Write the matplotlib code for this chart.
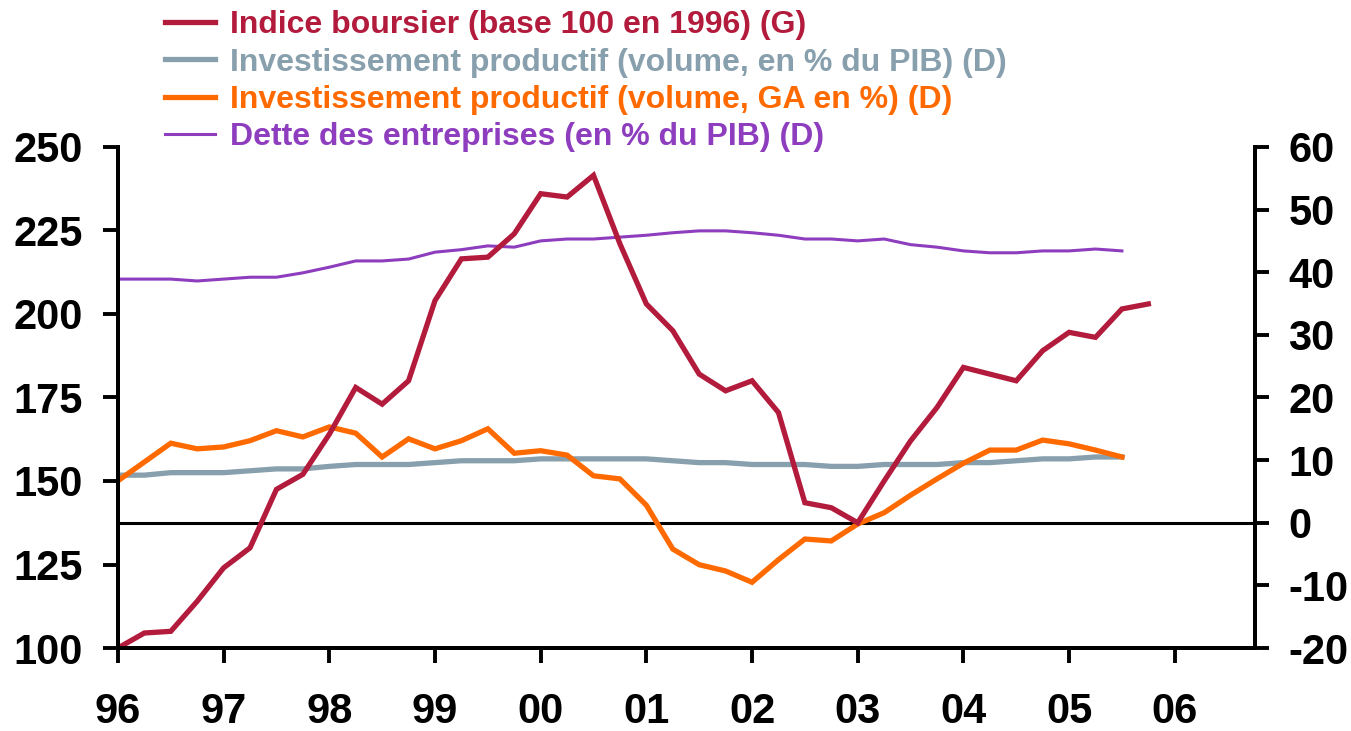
import matplotlib
matplotlib.use("Agg")
import matplotlib.pyplot as plt
import numpy as np

# Quarterly dates (1996Q1 .. ), in years since 1996
stock_x = np.arange(40) / 4.0
stock = [100, 104.5, 105, 114, 124, 130, 147.5, 152, 164, 178, 173, 180,
         204, 216.5, 217, 224, 236, 235, 241.5, 221, 203, 195, 182, 177,
         180, 170.5, 143.5, 142, 137.5, 150, 162, 172, 184, 182, 180, 189,
         194.5, 193, 201.5, 203]

inv_x = np.arange(39) / 4.0
inv_pib = [7.6, 7.6, 8.0, 8.0, 8.0, 8.3, 8.6, 8.6, 9.0, 9.3, 9.3, 9.3,
           9.6, 9.9, 9.9, 9.9, 10.2, 10.2, 10.2, 10.2, 10.2, 9.9, 9.6, 9.6,
           9.3, 9.3, 9.3, 9.0, 9.0, 9.3, 9.3, 9.3, 9.6, 9.6, 9.9, 10.2,
           10.2, 10.5, 10.5]
inv_ga = [6.7, 9.7, 12.7, 11.8, 12.1, 13.1, 14.7, 13.7, 15.3, 14.3, 10.5, 13.4,
          11.8, 13.1, 15.0, 11.1, 11.5, 10.8, 7.5, 7.0, 2.8, -4.2, -6.7, -7.7,
          -9.5, -5.9, -2.6, -2.9, -0.2, 1.6, 4.4, 7.0, 9.5, 11.6, 11.6, 13.2,
          12.6, 11.6, 10.5]
dette = [38.9, 38.9, 38.9, 38.6, 38.9, 39.2, 39.2, 39.9, 40.8, 41.8, 41.8, 42.1,
         43.2, 43.6, 44.2, 44.0, 45.0, 45.3, 45.3, 45.6, 45.9, 46.3, 46.6, 46.6,
         46.3, 45.9, 45.3, 45.3, 45.0, 45.3, 44.4, 44.0, 43.4, 43.1, 43.1, 43.4,
         43.4, 43.7, 43.4]

xtick_labels = ["96", "97", "98", "99", "00", "01", "02", "03", "04", "05", "06"]
left_ticks = [100, 125, 150, 175, 200, 225, 250]
right_ticks = [-20, -10, 0, 10, 20, 30, 40, 50, 60]

labels = ["Indice boursier (base 100 en 1996) (G)",
          "Investissement productif (volume, en % du PIB) (D)",
          "Investissement productif (volume, GA en %) (D)",
          "Dette des entreprises (en % du PIB) (D)"]
c_red = "#B31B3D"
c_gray = "#88A0AD"
c_orange = "#FF6A00"
c_purple = "#8D3DBE"

plt.rcParams['font.family'] = ['Liberation Sans', 'DejaVu Sans']
plt.rcParams['font.weight'] = 'bold'
plt.rcParams['axes.unicode_minus'] = False

fig = plt.figure(figsize=(13.51, 7.31), dpi=100)
ax = fig.add_axes([0.0873, 0.1135, 0.9290 - 0.0873, 0.799 - 0.1135])
ax2 = ax.twinx()

ax.set_zorder(ax2.get_zorder() + 1)
ax.patch.set_visible(False)

l2, = ax2.plot(inv_x, inv_pib, color=c_gray, lw=3.8, solid_joinstyle='miter')
l4, = ax2.plot(inv_x, dette, color=c_purple, lw=2.2)
ax2.axhline(0, color="black", lw=2.2, zorder=1)
l3, = ax2.plot(inv_x, inv_ga, color=c_orange, lw=3.8, solid_joinstyle='miter')
l1, = ax.plot(stock_x, stock, color=c_red, lw=3.8, solid_joinstyle='miter')

ax.set_xlim(0, 10.76)
ax.set_ylim(100, 250)
ax2.set_ylim(-20, 60)

ax.set_xticks(np.arange(len(xtick_labels)))
ax.set_xticklabels(xtick_labels)
ax.set_yticks(left_ticks)
ax2.set_yticks(right_ticks)
ax2.set_yticklabels([str(v) for v in right_ticks])

for a in (ax, ax2):
    a.spines['top'].set_visible(False)
    for s in a.spines.values():
        s.set_linewidth(2.8)
ax.tick_params(axis='x', length=11, width=2.8, pad=21, labelsize=30)
ax.tick_params(axis='y', length=11, width=2.8, pad=14, labelsize=30)
ax2.tick_params(axis='y', length=10, width=2.8, pad=14, labelsize=30)

leg = fig.legend([l1, l2, l3, l4], labels, loc='upper left',
                 bbox_to_anchor=(0.1221, 0.986), frameon=False,
                 fontsize=23, handlelength=1.56, handletextpad=0.47,
                 labelspacing=0.23, borderaxespad=0, borderpad=0)
for txt, col in zip(leg.get_texts(), [c_red, c_gray, c_orange, c_purple]):
    txt.set_color(col)
    txt.set_fontweight('bold')

fig.savefig("out.png", dpi=100)
